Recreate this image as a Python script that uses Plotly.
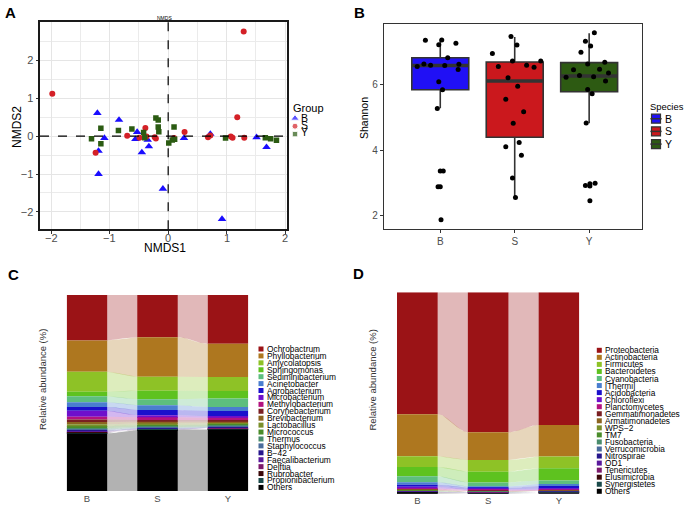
import numpy as np
import plotly.graph_objects as go

W, H = 684, 506
FONT = "Liberation Sans, Arial, sans-serif"

# ---------------- Panel A: NMDS ----------------
a_B_x = [-1.21, -0.84, -1.09, -1.19, -1.19, -0.53, -0.56, -0.35, -0.33, -0.45, -0.09, 0.27, 0.72, 0.92, 1.51, 1.68]
a_B_y = [0.61, 0.43, -0.05, -0.39, -1.00, 0.11, -0.08, -0.10, -0.27, -0.43, -1.39, -0.05, 0.06, -2.19, -0.03, -0.29]
a_S_x = [-1.98, 1.29, 1.18, -1.24, -0.70, -0.49, -0.39, -0.37, -0.23, -0.21, 0.10, 0.28, 0.68, 0.72, 1.07, 1.10, 1.30]
a_S_y = [1.12, 2.77, 0.50, -0.44, 0.01, -0.04, 0.22, -0.01, -0.03, -0.06, -0.05, 0.11, -0.03, 0.02, -0.01, -0.04, -0.04]
a_Y_x = [-1.31, -1.15, -1.15, -0.85, -0.62, -0.42, -0.40, -0.21, -0.17, -0.17, -0.16, 0.01, 0.07, 0.11, 0.10, 0.98, 1.66, 1.75, 1.85]
a_Y_y = [-0.07, 0.21, -0.20, 0.15, 0.19, 0.10, -0.04, 0.48, 0.43, 0.24, 0.12, -0.18, -0.10, -0.08, 0.24, -0.05, -0.04, -0.07, -0.11]
a_ticks = [-2, -1, 0, 1, 2]
group_names = ["B", "S", "Y"]
group_colors = ["#1A0DFF", "#D42027", "#2B5B12"]
group_symbols = ["triangle-up", "circle", "square"]

# ---------------- Panel B: Shannon ----------------
box_q1 = [5.85, 4.40, 5.79]
box_median = [6.59, 6.12, 6.27]
box_q3 = [6.83, 6.70, 6.68]
box_lower = [5.29, 2.57, 4.83]
box_upper = [7.39, 7.46, 7.58]
box_fill = ["#2010F5", "#CB181D", "#2D5A12"]
shannon_ticks = [2, 4, 6]
pts_B = [7.36, 7.37, 7.23, 7.27, 6.83, 6.64, 6.56, 6.60, 6.59, 6.63, 6.47, 6.10, 5.85, 5.28, 3.37, 3.37, 2.89, 2.89, 1.88]
jit_B = [-0.20, 0.02, -0.02, 0.21, 0.10, -0.22, -0.31, -0.13, 0.06, 0.25, 0.24, -0.02, 0.03, -0.04, 0.00, 0.04, -0.03, 0.00, 0.01]
pts_S = [7.48, 7.22, 6.96, 6.73, 6.73, 6.56, 6.60, 6.54, 6.22, 5.96, 5.56, 5.18, 4.83, 4.11, 4.24, 3.85, 3.16, 2.56]
jit_S = [-0.05, 0.03, -0.30, -0.03, 0.35, -0.22, 0.16, 0.26, -0.09, 0.04, -0.12, 0.12, -0.02, -0.12, 0.06, 0.09, -0.03, 0.01]
pts_Y = [7.59, 7.33, 7.19, 7.00, 6.64, 6.69, 6.46, 6.48, 6.29, 6.36, 6.23, 6.25, 6.12, 5.86, 5.73, 4.84, 2.93, 2.98, 2.91, 3.00, 2.46]
jit_Y = [0.07, -0.05, 0.02, -0.11, -0.02, 0.21, -0.21, 0.14, -0.13, 0.26, -0.31, 0.06, 0.22, -0.02, 0.04, -0.04, -0.05, 0.01, 0.01, 0.08, 0.01]

# ---------------- Panel C: genera ----------------
genera = ["Ochrobactrum", "Phyllobacterium", "Amycolatopsis", "Sphingomonas", "Sediminibacterium",
          "Acinetobacter", "Agrobacterium", "Microbacterium", "Methylobacterium", "Corynebacterium",
          "Brevibacterium", "Lactobacillus", "Micrococcus", "Thermus", "Staphylococcus", "B\u221242",
          "Faecalibacterium", "Delftia", "Rubrobacter", "Propionibacterium", "Others"]
gen_B = [0.232, 0.161, 0.102, 0.022, 0.031, 0.024, 0.020, 0.031, 0.014, 0.012, 0.012, 0.010, 0.010,
         0.007, 0.005, 0.005, 0.003, 0.003, 0.002, 0.002, 0.294]
gen_S = [0.215, 0.202, 0.071, 0.044, 0.031, 0.024, 0.027, 0.010, 0.014, 0.009, 0.009, 0.008, 0.008,
         0.005, 0.004, 0.003, 0.002, 0.001, 0.001, 0.001, 0.311]
gen_Y = [0.250, 0.170, 0.071, 0.039, 0.043, 0.020, 0.027, 0.008, 0.012, 0.008, 0.008, 0.007, 0.007,
         0.005, 0.004, 0.003, 0.002, 0.002, 0.001, 0.001, 0.315]

# ---------------- Panel D: phyla ----------------
phyla = ["Proteobacteria", "Actinobacteria", "Firmicutes", "Bacteroidetes", "Cyanobacteria", "[Thermi]",
         "Acidobacteria", "Chloroflexi", "Planctomycetes", "Gemmatimonadetes", "Armatimonadetes", "WPS\u22122",
         "TM7", "Fusobacteria", "Verrucomicrobia", "Nitrospirae", "OD1", "Tenericutes", "Elusimicrobia",
         "Synergistetes", "Others"]
phy_B = [0.605, 0.209, 0.053, 0.046, 0.030, 0.013, 0.010, 0.008, 0.006, 0.003, 0.002, 0.002, 0.002,
         0.002, 0.001, 0.001, 0.001, 0.001, 0.001, 0.001, 0.003]
phy_S = [0.695, 0.138, 0.058, 0.053, 0.020, 0.007, 0.007, 0.005, 0.004, 0.002, 0.002, 0.001, 0.001,
         0.001, 0.001, 0.001, 0.001, 0.001, 0.000, 0.001, 0.001]
phy_Y = [0.660, 0.156, 0.058, 0.061, 0.018, 0.010, 0.013, 0.006, 0.004, 0.002, 0.002, 0.001, 0.001,
         0.001, 0.001, 0.001, 0.001, 0.001, 0.001, 0.001, 0.002]

palette = ["#9B1316", "#AE771F", "#8EC226", "#5EC21F", "#5DBE7E", "#4A7ECF", "#1A10CC", "#6E0FCC",
           "#B3127F", "#7A1F22", "#8C6420", "#7A8F2A", "#4A8C2A", "#4A8C6C", "#4A6C9C", "#26168C",
           "#5A1A9C", "#7C1A6C", "#3A0808", "#1A4A4A", "#000000"]

fig = go.Figure()


def px(x):
    return x / W


def py(y):
    return 1 - y / H


# ---- A traces
for name, xs, ys, col, sym, sz in zip(group_names, [a_B_x, a_S_x, a_Y_x], [a_B_y, a_S_y, a_Y_y],
                                      group_colors, group_symbols, [7.5, 6, 5.5]):
    fig.add_trace(go.Scatter(x=xs, y=ys, mode="markers", name=name, showlegend=False,
                             marker=dict(color=col, symbol=sym, size=sz, line=dict(width=0)),
                             xaxis="x", yaxis="y"))

# ---- B traces
box_w = 0.765
for i, name in enumerate(group_names):
    fig.add_trace(go.Box(x=[i], q1=[box_q1[i]], median=[box_median[i]], q3=[box_q3[i]],
                         lowerfence=[box_lower[i]], upperfence=[box_upper[i]],
                         width=box_w, whiskerwidth=0, fillcolor=box_fill[i],
                         line=dict(color="#333333", width=1.6), boxpoints=False,
                         showlegend=False, xaxis="x2", yaxis="y2"))
    fig.add_trace(go.Scatter(x=[i - box_w / 2, i + box_w / 2], y=[box_median[i]] * 2, mode="lines",
                             line=dict(color="#333333", width=3.5), showlegend=False,
                             xaxis="x2", yaxis="y2"))
for i, (pts, jit) in enumerate(zip([pts_B, pts_S, pts_Y], [jit_B, jit_S, jit_Y])):
    fig.add_trace(go.Scatter(x=[i + j for j in jit], y=pts, mode="markers",
                             marker=dict(color="black", size=5), showlegend=False,
                             xaxis="x2", yaxis="y2"))


# ---- C / D stacked bars with flows
def rgba(hexc, a):
    h = hexc.lstrip("#")
    return "rgba(%d,%d,%d,%.2f)" % (int(h[0:2], 16), int(h[2:4], 16), int(h[4:6], 16), a)


bar_w = 0.575


def add_alluvial(cols, xa, ya):
    mat = np.array(cols, dtype=float)  # groups x taxa
    mat = mat / mat.sum(axis=1, keepdims=True) * 100
    ntax = mat.shape[1]
    tops = np.zeros_like(mat)
    bots = np.zeros_like(mat)
    for g in range(mat.shape[0]):
        acc = 0.0
        for k in range(ntax - 1, -1, -1):
            bots[g, k] = acc
            acc += mat[g, k]
            tops[g, k] = acc
    t = np.linspace(0, 1, 40)
    s = 3 * t ** 2 - 2 * t ** 3
    for g in range(mat.shape[0] - 1):
        x0 = g + bar_w / 2
        x1 = g + 1 - bar_w / 2
        xs = x0 + (x1 - x0) * t
        for k in range(ntax):
            top = tops[g, k] + (tops[g + 1, k] - tops[g, k]) * s
            bot = bots[g, k] + (bots[g + 1, k] - bots[g, k]) * s
            fig.add_trace(go.Scatter(x=np.concatenate([xs, xs[::-1]]), y=np.concatenate([top, bot[::-1]]),
                                     fill="toself", fillcolor=rgba(palette[k], 0.3), mode="lines",
                                     line=dict(width=0), showlegend=False, hoverinfo="skip",
                                     xaxis=xa, yaxis=ya))
    for k in range(ntax):
        fig.add_trace(go.Bar(x=list(range(mat.shape[0])), y=mat[:, k], base=bots[:, k], width=bar_w,
                             marker=dict(color=palette[k], line=dict(width=0)), showlegend=False,
                             xaxis=xa, yaxis=ya))


add_alluvial([gen_B, gen_S, gen_Y], "x3", "y3")
add_alluvial([phy_B, phy_S, phy_Y], "x4", "y4")

# ---- manual legends on a pixel overlay axis
fig.add_trace(go.Scatter(x=[295] * 3, y=[118.3 + i * 7.9 for i in range(3)], mode="markers",
                         marker=dict(color=group_colors, symbol=group_symbols, size=[7.5, 6, 5.5]),
                         showlegend=False, xaxis="x5", yaxis="y5"))
sp_y = [118.7 + i * 12.7 for i in range(3)]
fig.add_trace(go.Scatter(x=[656] * 3, y=sp_y, mode="markers",
                         marker=dict(color=box_fill, symbol="square", size=9,
                                     line=dict(color="#333333", width=1.2)),
                         showlegend=False, xaxis="x5", yaxis="y5"))
fig.add_trace(go.Scatter(x=[656] * 3, y=sp_y, mode="markers",
                         marker=dict(color="#333333", symbol="line-ew", size=8,
                                     line=dict(color="#333333", width=1.5)),
                         showlegend=False, xaxis="x5", yaxis="y5"))
fig.add_trace(go.Scatter(x=[261] * len(genera), y=[349 + i * 6.92 for i in range(len(genera))],
                         mode="markers", marker=dict(color=palette, symbol="square", size=5),
                         showlegend=False, xaxis="x5", yaxis="y5"))
fig.add_trace(go.Scatter(x=[599.3] * len(phyla), y=[350.3 + i * 7.05 for i in range(len(phyla))],
                         mode="markers", marker=dict(color=palette, symbol="square", size=5),
                         showlegend=False, xaxis="x5", yaxis="y5"))

ann = []


def text(x, y, s, size, color="black", xanchor="center", yanchor="middle", angle=0, bold=False):
    ann.append(dict(x=px(x), y=py(y), xref="paper", yref="paper", text=("<b>%s</b>" % s) if bold else s,
                    showarrow=False, xanchor=xanchor, yanchor=yanchor, textangle=angle,
                    font=dict(family=FONT, size=size, color=color)))


for i, nm in enumerate(genera):
    text(264.5, 349 + i * 6.92, nm, 8.4, xanchor="left")
for i, nm in enumerate(phyla):
    text(603, 350.3 + i * 7.05, nm, 8.3, xanchor="left")
text(290.5, 108, "Group", 11, xanchor="left")
for i, nm in enumerate(group_names):
    text(299, 118 + i * 6.8, nm, 10.5, xanchor="left")
text(648, 106, "Species", 9.4, xanchor="left")
for i, nm in enumerate(group_names):
    text(663, sp_y[i], nm, 10.5, xanchor="left")

# x tick labels of panel A placed through the x scale
for v in a_ticks:
    ann.append(dict(x=v, xref="x", y=py(237.5), yref="paper", yanchor="middle", xanchor="center",
                    text=("\u2212%d" % -v) if v < 0 else "%d" % v, showarrow=False,
                    font=dict(family=FONT, size=11, color="#4D4D4D")))

text(10, 13, "A", 15, bold=True)
text(359, 13, "B", 15, bold=True)
text(13, 274, "C", 15, bold=True)
text(358, 273, "D", 15, bold=True)
text(164, 18, "NMDS", 5)
text(165, 248, "NMDS1", 12)
text(17, 127, "NMDS2", 12, angle=-90)
text(364, 118, "Shannon", 10.5, angle=-90)
text(42, 380, "Relative abundance (%)", 9.5, color="#333333", angle=-90)
text(371.5, 380, "Relative abundance (%)", 9.5, color="#333333", angle=-90)

tickfont = dict(family=FONT, size=11, color="#4D4D4D")
fig.update_layout(
    width=W, height=H, margin=dict(l=0, r=0, t=0, b=0),
    paper_bgcolor="white", plot_bgcolor="rgba(0,0,0,0)", barmode="overlay",
    annotations=ann, showlegend=False,
    xaxis=dict(domain=[px(40), px(287)], anchor="y", range=[-2.19, 2.03], tickvals=a_ticks,
               showticklabels=False,
               showgrid=True, gridcolor="#E5E5E5", gridwidth=1, zeroline=False,
               minor=dict(dtick=0.5, showgrid=True, gridcolor="#EBEBEB", gridwidth=0.7),
               showline=True, mirror=True, linewidth=2, linecolor="#1A1A1A",
               ticks="outside", ticklen=2.5, tickcolor="#333333", tickfont=tickfont),
    yaxis=dict(domain=[py(229.3), py(22.3)], anchor="x", range=[-2.46, 3.01], tickvals=a_ticks,
               showgrid=True, gridcolor="#E5E5E5", gridwidth=1, zeroline=False,
               minor=dict(dtick=0.5, showgrid=True, gridcolor="#EBEBEB", gridwidth=0.7),
               showline=True, mirror=True, linewidth=2, linecolor="#1A1A1A",
               ticks="outside", ticklen=2.5, tickcolor="#333333", tickfont=tickfont),
    xaxis2=dict(domain=[px(383.7), px(642)], anchor="y2", range=[-0.76, 2.71], tickvals=[0, 1, 2],
                ticktext=group_names,
                showgrid=False, zeroline=False, showline=True, mirror=True, linewidth=1, linecolor="#333333",
                ticks="outside", ticklen=3, tickcolor="#333333",
                tickfont=dict(family=FONT, size=10, color="#4D4D4D")),
    yaxis2=dict(domain=[py(229.3), py(24)], anchor="x2", range=[1.59, 7.86], tickvals=shannon_ticks,
                showgrid=False, zeroline=False, showline=True, mirror=True, linewidth=1, linecolor="#333333",
                ticks="outside", ticklen=3, tickcolor="#333333",
                tickfont=dict(family=FONT, size=10, color="#4D4D4D")),
    xaxis3=dict(domain=[px(66.7), px(248.3)], anchor="y3", range=[-bar_w / 2, 2 + bar_w / 2],
                tickvals=[0, 1, 2], ticktext=group_names, showgrid=False, zeroline=False,
                showline=False, ticks="", tickfont=dict(family=FONT, size=9.5, color="#4D4D4D")),
    yaxis3=dict(domain=[py(491), py(295)], anchor="x3", range=[0, 100], showgrid=False, zeroline=False,
                showline=False, showticklabels=False, ticks=""),
    xaxis4=dict(domain=[px(397), px(579.3)], anchor="y4", range=[-bar_w / 2, 2 + bar_w / 2],
                tickvals=[0, 1, 2], ticktext=group_names, showgrid=False, zeroline=False,
                showline=False, ticks="", tickfont=dict(family=FONT, size=9.5, color="#4D4D4D")),
    yaxis4=dict(domain=[py(493.7), py(292.3)], anchor="x4", range=[0, 100], showgrid=False,
                zeroline=False, showline=False, showticklabels=False, ticks=""),
    xaxis5=dict(domain=[0, 1], anchor="y5", range=[0, W], visible=False, fixedrange=True),
    yaxis5=dict(domain=[0, 1], anchor="x5", range=[H, 0], visible=False, fixedrange=True),
    shapes=[
        dict(type="line", xref="x", yref="y domain", x0=0, x1=0, y0=0, y1=1,
             line=dict(color="black", width=1.2, dash="dash")),
        dict(type="line", xref="x domain", yref="y", x0=0, x1=1, y0=0, y1=0,
             line=dict(color="black", width=1.2, dash="dash")),
    ],
)

fig.write_html("out.html", config={"displayModeBar": False})
with open("out.html", "r", encoding="utf-8") as f:
    html = f.read()
html = html.replace("<head>", "<head><style>html,body{margin:0;padding:0;overflow:hidden;}</style>", 1)
with open("out.html", "w", encoding="utf-8") as f:
    f.write(html)
